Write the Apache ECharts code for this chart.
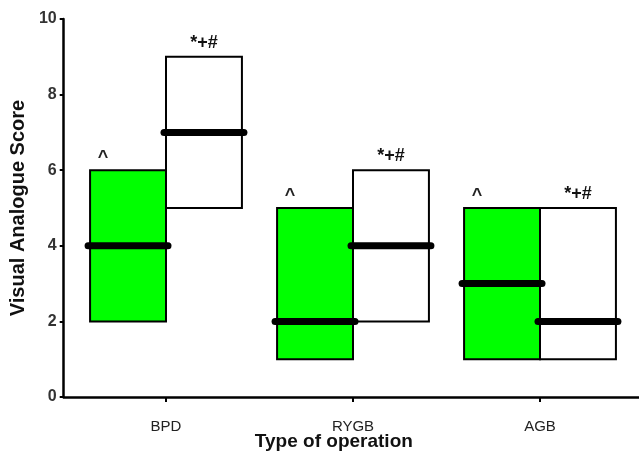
<!DOCTYPE html>
<html><head><meta charset="utf-8">
<script src="https://cdn.jsdelivr.net/npm/echarts@6/dist/echarts.min.js"></script>
<style>html,body{margin:0;padding:0;background:#fff}#c{width:639px;height:459px}</style>
</head><body><div id="c"></div>
<script>
// ---- data ----
const categories = ['BPD', 'RYGB', 'AGB'];
const greenLow = [2, 1, 1];
const greenMedian = [4, 2, 3];
const greenHigh = [6, 5, 5];
const whiteLow = [5, 2, 1];
const whiteMedian = [7, 4, 2];
const whiteHigh = [9, 6, 5];
const greenMarks = ['^', '^', '^'];
const whiteMarks = ['*+#', '*+#', '*+#'];
const yTicks = [0, 2, 4, 6, 8, 10];

const FONT = '"Liberation Sans", Arial, sans-serif';
const chart = echarts.init(document.getElementById('c'), null, {renderer: 'canvas'});

const seriesData = categories.map((c, i) => [c, greenLow[i], greenMedian[i], greenHigh[i], whiteLow[i], whiteMedian[i], whiteHigh[i]]);

const option = {
  animation: false,
  backgroundColor: '#fff',
  grid: [
    {left: 60, right: 0, top: 19, bottom: 62},
    {left: 72.5, width: 561, top: 19, bottom: 62}
  ],
  xAxis: [
    {
      gridIndex: 0, type: 'value', min: 0, max: 1,
      axisLine: {show: true, onZero: false, lineStyle: {color: '#000', width: 2.5}},
      axisTick: {show: false}, axisLabel: {show: false}, splitLine: {show: false},
      name: 'Type of operation', nameLocation: 'middle', nameGap: 35,
      nameTextStyle: {fontFamily: FONT, fontSize: 19, fontWeight: 'bold', color: '#111', padding: [0, 35, 0, 0]}
    },
    {
      gridIndex: 1, type: 'category', data: categories,
      axisLine: {show: false},
      axisTick: {show: true, alignWithLabel: true, length: 5, lineStyle: {color: '#000', width: 2}},
      axisLabel: {margin: 22, fontFamily: FONT, fontSize: 15, color: '#222'},
      splitLine: {show: false}
    }
  ],
  yAxis: [
    {
      gridIndex: 0, type: 'value', min: yTicks[0], max: yTicks[yTicks.length - 1], interval: 2,
      axisLine: {show: true, lineStyle: {color: '#000', width: 2.5}},
      axisTick: {show: true, length: 4, lineStyle: {color: '#000', width: 2}},
      axisLabel: {margin: 7, fontFamily: FONT, fontSize: 16, fontWeight: 'bold', color: '#333'},
      splitLine: {show: false},
      name: 'Visual Analogue Score', nameLocation: 'middle', nameGap: 33,
      nameTextStyle: {fontFamily: FONT, fontSize: 20, fontWeight: 'bold', color: '#111'}
    },
    {gridIndex: 1, type: 'value', min: 0, max: 10, show: false}
  ],
  series: [{
    type: 'custom',
    xAxisIndex: 1, yAxisIndex: 1,
    data: seriesData,
    encode: {x: 0, y: [1, 2, 3, 4, 5, 6]},
    renderItem: function (params, api) {
      const idx = params.dataIndex;
      const cat = categories[idx];
      const center = api.coord([cat, 0])[0];
      const bw = api.size([1, 0])[0] * 0.406;
      const Y = v => api.coord([cat, v])[1];
      const gl = Y(api.value(1)), gm = Y(api.value(2)), gh = Y(api.value(3));
      const wl = Y(api.value(4)), wm = Y(api.value(5)), wh = Y(api.value(6));
      return {
        type: 'group',
        children: [
          {type: 'rect', shape: {x: center - bw, y: gh, width: bw, height: gl - gh},
           style: {fill: '#00ff00', stroke: '#000', lineWidth: 2}},
          {type: 'rect', shape: {x: center, y: wh, width: bw, height: wl - wh},
           style: {fill: '#fff', stroke: '#000', lineWidth: 2}},
          {type: 'line', shape: {x1: center - bw - 2, y1: gm, x2: center + 2, y2: gm},
           style: {stroke: '#000', lineWidth: 7, lineCap: 'round'}},
          {type: 'line', shape: {x1: center - 2, y1: wm, x2: center + bw + 2, y2: wm},
           style: {stroke: '#000', lineWidth: 7, lineCap: 'round'}},
          {type: 'text', style: {text: greenMarks[idx], x: center - bw + 13, y: gh - 3,
            align: 'center', verticalAlign: 'bottom', fontFamily: FONT, fontSize: 18, fontWeight: 'bold', fill: '#222'}},
          {type: 'text', style: {text: whiteMarks[idx], x: center + bw / 2, y: wh - 5,
            align: 'center', verticalAlign: 'bottom', fontFamily: FONT, fontSize: 18, fontWeight: 'bold', fill: '#111'}}
        ]
      };
    }
  }]
};
chart.setOption(option);
</script>
</body></html>
